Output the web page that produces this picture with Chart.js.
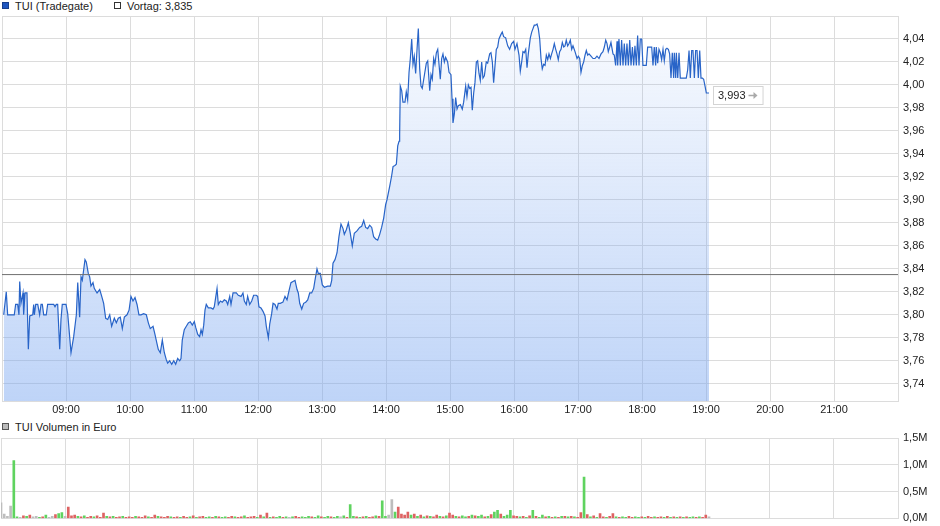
<!DOCTYPE html>
<html>
<head>
<meta charset="utf-8">
<script src="https://cdn.jsdelivr.net/npm/chart.js@4.4.1/dist/chart.umd.min.js"></script>
<style>
  body { margin: 0; background: #fff; font-family: "Liberation Sans", Arial, sans-serif; font-size: 11px; color: #222; }
  #wrap { position: relative; width: 940px; height: 526px; overflow: hidden; }
  canvas { position: absolute; left: 0; }
  .lg { position: absolute; white-space: nowrap; line-height: 13px; }
  .sq { display: inline-block; width: 5px; height: 5px; border: 1px solid #333; margin-right: 6px; vertical-align: 1px; }
</style>
</head>
<body>
<div id="wrap">
  <div class="lg" style="left:2px;top:0px"><span class="sq" style="background:#1f56c0;border-color:#183f8c"></span>TUI (Tradegate)</div>
  <div class="lg" style="left:114px;top:0px"><span class="sq" style="background:#fff"></span><span id="vortagTxt"></span></div>
  <canvas id="priceChart" width="940" height="420" style="top:0"></canvas>
  <div class="lg" style="left:2px;top:421px"><span class="sq" style="background:#bbb;border-color:#555"></span>TUI Volumen in Euro</div>
  <canvas id="volChart" width="940" height="110" style="top:420px"></canvas>
</div>
<script>
// time = minutes after 08:00, price in EUR
const morning = [
  [1.6,3.800],[4.0,3.820],[5.3,3.800],[11.5,3.800],[12.8,3.809],[14.7,3.809],[15.9,3.800],[16.6,3.829],[17.8,3.810],[19.7,3.819],
  [20.3,3.800],[21.6,3.819],[23.4,3.819],[24.7,3.770],[26.0,3.799],[28.8,3.800],[29.7,3.809],[30.3,3.800],[31.6,3.809],[33.5,3.809],
  [35.3,3.800],[36.6,3.809],[37.8,3.809],[39.1,3.800],[41.5,3.800],[42.8,3.809],[48.5,3.809],[49.7,3.807],[50.9,3.809],[52.2,3.809],
  [54.1,3.770],[55.3,3.796],[56.5,3.809],[60.0,3.809],[61.6,3.801],[64.7,3.767],[67.2,3.781],[69.7,3.800],[71.0,3.828],[72.8,3.798],
  [74.1,3.833],[75.3,3.830],[77.8,3.848],[79.0,3.846],[80.9,3.836],[82.2,3.833],[83.4,3.825],[85.3,3.828],[86.5,3.823],[89.1,3.819],
  [91.6,3.822],[93.5,3.816],[95.3,3.810],[97.2,3.797],[99.1,3.796],[101.0,3.800],[102.8,3.790],[105.3,3.797],[107.2,3.793],[109.0,3.797],
  [110.9,3.798],[112.8,3.788],[114.7,3.798],[117.2,3.800],[119.1,3.804],[120.9,3.816],[122.8,3.812],[124.7,3.815],[126.6,3.809],[128.4,3.800],
  [130.3,3.800],[132.8,3.801],[135.3,3.800],[137.2,3.793],[139.0,3.788],[141.6,3.790],[143.4,3.783],[145.3,3.775],[146.5,3.770],[148.4,3.767],
  [150.3,3.778],[152.2,3.767],[154.0,3.761],[155.3,3.758],[157.2,3.760],[159.1,3.757],[161.0,3.760],[162.8,3.757],[164.7,3.762],[166.6,3.760],
  [167.8,3.762],[169.0,3.778],[170.9,3.787],[172.8,3.790],[174.7,3.793],[176.5,3.794],[178.4,3.791],[180.3,3.794],[181.6,3.789],[183.5,3.783],
  [185.3,3.781],[186.6,3.787],[187.8,3.783],[189.1,3.791],[190.3,3.804],[191.5,3.809]
];
const midday = [
  [193.4,3.806],[195.9,3.806],[197.8,3.805],[199.0,3.807],[200.3,3.815],[201.6,3.823],[202.8,3.809],[204.7,3.812],[206.5,3.811],[208.4,3.813],
  [210.3,3.812],[211.6,3.809],[213.5,3.816],[214.7,3.809],[216.6,3.819],[217.8,3.819],[219.7,3.819],[221.5,3.817],[224.1,3.816],[225.9,3.819],
  [227.2,3.812],[229.0,3.809],[230.3,3.816],[232.2,3.809],[234.1,3.812],[235.9,3.817],[238.4,3.817],[239.7,3.816],[240.9,3.807],[242.8,3.806],
  [244.7,3.803],[246.6,3.799],[247.8,3.790],[249.7,3.780],[251.0,3.792],[252.8,3.801],[254.1,3.810],[255.9,3.809],[257.8,3.805],[259.0,3.810],
  [260.9,3.810],[263.4,3.811],[265.3,3.816],[267.2,3.813],[269.1,3.821],[270.9,3.828],[272.8,3.829],[274.7,3.830],[276.6,3.822],[277.8,3.819],
  [279.1,3.810],[281.0,3.805],[282.8,3.810],[284.7,3.811],[286.6,3.813],[288.5,3.819],[290.3,3.819],[292.2,3.823],[293.4,3.830],[295.3,3.840],
  [296.5,3.836],[298.4,3.836],[300.3,3.826],[302.2,3.824],[305.3,3.825],[307.8,3.825],[309.1,3.830],[310.3,3.845],[312.2,3.848],[314.1,3.854],
  [315.9,3.868],[317.8,3.879],[319.7,3.875],[320.9,3.870],[322.8,3.874],[324.7,3.880],[326.5,3.871],[328.4,3.860],[330.3,3.871],[332.8,3.873],
  [335.3,3.876],[337.2,3.877],[339.1,3.882],[340.9,3.876],[342.8,3.875],[344.7,3.878],[346.6,3.876],[348.4,3.868],[350.3,3.866],[352.2,3.865],
  [354.1,3.870],[355.9,3.876],[357.8,3.884]
];
const afternoon = [
  [359.7,3.896],[360.9,3.900],[363.5,3.912],[365.3,3.921],[366.6,3.929],[368.4,3.930],[369.7,3.931],[371.0,3.947],[372.2,3.951],[372.8,3.957],
  [373.4,3.999],[374.7,3.995],[375.9,3.985],[377.8,3.985],[379.0,3.994],[380.3,3.987],[381.6,4.011],[382.8,4.023],[384.1,4.040],[385.3,4.018],
  [386.5,4.025],[387.8,4.010],[389.1,4.031],[390.3,4.049],[391.6,4.014],[392.8,3.999],[394.0,3.997],[395.9,4.008],[397.8,4.019],[399.1,4.021],
  [401.0,3.995],[402.2,4.009],[403.4,4.005],[404.7,4.023],[405.9,4.018],[407.2,4.028],[408.5,4.031],[409.7,4.018],[410.9,4.005],[412.2,4.023],
  [413.4,4.027],[414.7,4.020],[415.9,4.024],[417.8,4.020],[419.1,4.011],[420.9,4.009],[421.9,3.988],[422.8,3.967],[424.1,3.975],[425.3,3.989],
  [426.6,3.979],[427.8,3.982],[429.7,3.983],[431.5,3.979],[432.8,3.985],[434.7,3.999],[435.9,3.990],[437.2,4.000],[438.5,3.997],[439.7,3.998],
  [440.9,3.978],[442.2,3.993],[443.4,4.002],[444.7,4.020],[445.9,4.021],[447.2,4.010],[448.4,4.004],[449.7,4.020],[450.9,4.006],[452.2,4.008],
  [454.0,4.020],[455.3,4.019],[457.2,4.027],[458.4,4.028],[459.7,4.020],[460.9,4.002],[462.2,4.017],[463.4,4.031],[464.7,4.033],[465.9,4.040],
  [467.8,4.044],[469.0,4.046],[470.3,4.042],[472.2,4.041],[474.1,4.034],[475.9,4.031],[477.8,4.036],[479.7,4.038],[480.9,4.031],[482.8,4.036],
  [484.7,4.026],[485.9,4.012],[487.2,4.020],[488.4,4.029],[489.7,4.028],[491.0,4.031],[492.2,4.015],[493.4,4.027],[495.3,4.041],[496.6,4.046],
  [497.8,4.049],[499.0,4.052],[500.3,4.052],[501.6,4.053],[502.8,4.049],[504.1,4.040],[505.3,4.023],[506.5,4.014],[507.8,4.018],[509.1,4.017],
  [510.3,4.026],[511.6,4.022],[512.8,4.027],[514.1,4.023],[515.3,4.027],[516.6,4.031],[517.8,4.036],[519.1,4.031],[520.3,4.027],[521.5,4.022],
  [522.8,4.029],[524.1,4.031],[525.3,4.037],[526.6,4.033],[527.8,4.034],[529.0,4.039],[530.3,4.034],[531.6,4.036],[532.8,4.039]
];
const evening = [
  [534.1,4.031],[535.3,4.034],[537.2,4.029],[539.1,4.023],[540.3,4.025],[541.6,4.023],[542.8,4.011],[544.1,4.017],[545.3,4.020],[546.6,4.026],
  [547.8,4.030],[549.1,4.026],[550.3,4.027],[552.2,4.025],[554.1,4.023],[555.9,4.023],[557.8,4.025],[559.7,4.023],[561.6,4.027],[563.4,4.029],
  [564.7,4.033],[566.0,4.039],[567.2,4.036],[568.4,4.029],[569.7,4.033],[570.9,4.037],[572.8,4.027],[574.0,4.026],[575.3,4.017],[576.6,4.038],
  [577.2,4.017],[578.4,4.040],[579.7,4.017],[580.9,4.039],[582.2,4.017],[583.4,4.036],[584.7,4.017],[585.9,4.036],[587.2,4.017],[588.5,4.039],
  [589.7,4.017],[591.0,4.033],[592.2,4.017],[593.4,4.034],[594.7,4.017],[595.9,4.043],[597.2,4.017],[598.4,4.040],[599.7,4.040],[600.9,4.017],
  [602.8,4.017],[604.0,4.017],[605.3,4.033],[606.6,4.033],[609.1,4.033],[610.3,4.017],[611.5,4.033],[612.8,4.017],[613.4,4.033],[614.7,4.019],
  [615.9,4.031],[617.2,4.028],[618.4,4.022],[619.7,4.031],[620.9,4.021],[622.2,4.031],[623.4,4.032],[624.7,4.031],[625.9,4.027],[627.2,4.006],
  [628.4,4.028],[629.7,4.006],[630.3,4.028],[631.6,4.006],[632.2,4.028],[633.5,4.006],[634.7,4.028],[635.9,4.006],[637.8,4.006],[639.7,4.006],
  [641.5,4.006],[642.8,4.013],[644.1,4.030],[645.3,4.006],[646.6,4.030],[647.8,4.030],[649.1,4.006],[650.3,4.030],[651.6,4.030],[652.8,4.006],
  [654.1,4.030],[655.3,4.006],[656.6,4.006],[657.8,4.005],[659.1,3.999],[660.3,3.993],[662.8,3.993]
];
const vortag = 3.835;

// volume in thousand EUR per 3-minute slot from 08:00; side: g = up, r = down, n = unchanged
const volStep = 3;
const volume = [
  290,80,40,230,1080,30,20,50,40,60,   30,40,20,30,60,20,40,70,90,110,
  40,210,50,60,40,30,50,20,40,30,      50,20,100,40,30,40,20,30,40,20,
  30,20,40,30,20,50,30,20,60,40,       30,20,40,30,20,30,20,40,20,30,
  50,20,30,40,20,30,20,40,30,20,       30,20,40,30,20,30,50,20,30,40,
  20,60,30,100,20,30,20,40,20,30,      20,30,40,20,30,20,40,30,20,50,
  30,20,40,30,20,40,30,50,20,260,      40,30,20,30,40,20,30,50,40,330,
  40,60,350,120,210,80,60,120,60,80,   40,60,30,50,40,30,60,40,30,50,
  100,60,40,30,50,30,40,60,50,40,      60,30,40,70,120,150,80,40,60,150,
  50,40,30,40,20,50,150,40,20,60,      30,40,20,30,20,40,40,30,40,30,
  20,110,770,70,30,50,20,90,30,20,     40,90,30,20,30,20,40,20,30,20,
  30,20,40,20,30,20,30,20,40,20,       30,20,30,20,30,20,30,20,30,20,
  60,30
];
const volSide =
  "nnnnggnrgr" + "nngrgnnrgg" + "nrrrgrgrrg" + "rrrgrgrrgr" + "rrgrrrgrrg" +
  "rrrgrrgrrg" + "rgrrggrgrg" + "grrgrrgrrr" + "grgrgrggrg" + "ngrrgggrgg" +
  "rggrggngrg" + "grgrgrrgrg" + "gnngrrrrgr" + "grgrgrrgrg" + "rrgrggrgrg" +
  "grgrggrggg" + "rrgrgrgrgg" + "rgrgrgrgrg" + "rrgrgrgrrg" + "rrgrggrrgg" +
  "rgrrgrrgrg" + "rgrgrggrgr" + "rn";

const timeLabels = ['08:00','09:00','10:00','11:00','12:00','13:00','14:00','15:00','16:00','17:00','18:00','19:00','20:00','21:00','22:00'];
const priceTicks = [3.74,3.76,3.78,3.80,3.82,3.84,3.86,3.88,3.90,3.92,3.94,3.96,3.98,4.00,4.02,4.04];
const volTicks = [0, 500, 1000, 1500];

const yMin = 3.725, yMax = 4.06;
const toMin = t => { const [h, m] = t.split(':').map(Number); return (h - 8) * 60 + m; };
const hourMins = timeLabels.map(toMin);
const xMin = hourMins[0], xMax = hourMins[hourMins.length - 1];

const trades = [...morning, ...midday, ...afternoon, ...evening];
const priceData = trades.map(([x, y]) => ({ x, y }));
const lastPrice = trades[trades.length - 1][1];
const comma = (v, d) => v.toFixed(d).replace('.', ',');

document.getElementById('vortagTxt').textContent = 'Vortag: ' + comma(vortag, 3);

Chart.defaults.font.family = '"Liberation Sans", Arial, sans-serif';
Chart.defaults.font.size = 11;
Chart.defaults.color = '#222';

const gridCol = '#dcdcdc';

const lastLabel = {
  id: 'lastLabel',
  afterDatasetsDraw(chart) {
    const meta = chart.getDatasetMeta(1);
    const pt = meta.data[meta.data.length - 1];
    const ctx = chart.ctx;
    const txt = comma(lastPrice, 3);
    ctx.save();
    ctx.font = '11px "Liberation Sans", Arial, sans-serif';
    const w = ctx.measureText(txt).width;
    const x = Math.round(pt.x) + 4, y = Math.round(pt.y) - 7;
    ctx.fillStyle = '#fff';
    ctx.fillRect(x, y, w + 22, 18);
    ctx.strokeStyle = '#d4d4d4';
    ctx.strokeRect(x + 0.5, y + 0.5, w + 22, 18);
    ctx.fillStyle = '#222';
    ctx.textBaseline = 'middle';
    ctx.fillText(txt, x + 5, y + 9.5);
    // grey arrow
    const ax = x + w + 8, ay = y + 9.5;
    ctx.strokeStyle = '#aaa';
    ctx.lineWidth = 1.5;
    ctx.beginPath(); ctx.moveTo(ax, ay); ctx.lineTo(ax + 7, ay); ctx.stroke();
    ctx.fillStyle = '#aaa';
    ctx.beginPath(); ctx.moveTo(ax + 9, ay); ctx.lineTo(ax + 5, ay - 3.5); ctx.lineTo(ax + 5, ay + 3.5); ctx.closePath(); ctx.fill();
    ctx.restore();
  }
};

new Chart(document.getElementById('priceChart'), {
  type: 'line',
  data: {
    datasets: [
      {
        data: [{ x: xMin, y: vortag }, { x: xMax, y: vortag }],
        borderColor: '#707070', borderWidth: 1, pointRadius: 0, fill: false, order: 0
      },
      {
        data: priceData,
        borderColor: '#2864c8', borderWidth: 1.2, pointRadius: 0, tension: 0,
        fill: 'start', order: 1,
        backgroundColor: ctx => {
          const { chart } = ctx;
          const a = chart.chartArea;
          if (!a) return 'rgba(120,165,240,0.3)';
          const g = chart.ctx.createLinearGradient(0, a.top, 0, a.bottom);
          g.addColorStop(0, 'rgba(120,165,240,0.04)');
          g.addColorStop(1, 'rgba(120,165,240,0.48)');
          return g;
        }
      }
    ]
  },
  options: {
    responsive: false,
    animation: false,
    layout: { padding: { top: 16, left: 1, right: 0, bottom: 0 } },
    plugins: { legend: { display: false }, tooltip: { enabled: false } },
    scales: {
      x: {
        type: 'linear', min: xMin, max: xMax,
        afterBuildTicks: s => { s.ticks = hourMins.map(v => ({ value: v })); },
        afterFit: s => { s.height = 19; },
        ticks: {
          autoSkip: false, maxRotation: 0, padding: 2,
          callback: (v, i) => (i === 0 || i === timeLabels.length - 1) ? '' : timeLabels[i]
        },
        grid: { color: gridCol, drawTicks: false },
        border: { color: gridCol }
      },
      y: {
        position: 'right', min: yMin, max: yMax,
        afterBuildTicks: s => { s.ticks = [...priceTicks, yMax].map(v => ({ value: v })); },
        afterFit: s => { s.width = 42; },
        ticks: { padding: 5, callback: v => v === yMax ? '' : comma(v, 2) },
        grid: { color: gridCol, drawTicks: false },
        border: { color: gridCol }
      }
    }
  },
  plugins: [lastLabel]
});

const sideCol = { g: '#5fd35f', r: '#de6262', n: '#bdbdbd' };
new Chart(document.getElementById('volChart'), {
  type: 'bar',
  data: {
    datasets: [{
      data: volume.map((v, i) => ({ x: i * volStep, y: v })),
      backgroundColor: volume.map((v, i) => sideCol[volSide[i]]),
      barThickness: 2,
      borderWidth: 0
    }]
  },
  options: {
    responsive: false,
    animation: false,
    layout: { padding: { top: 18, left: 1, right: 0, bottom: 6 } },
    plugins: { legend: { display: false }, tooltip: { enabled: false } },
    scales: {
      x: {
        type: 'linear', min: xMin, max: xMax, offset: false,
        afterBuildTicks: s => { s.ticks = hourMins.map(v => ({ value: v })); },
        afterFit: s => { s.height = 0; },
        ticks: { display: false },
        grid: { color: gridCol, drawTicks: false, offset: false },
        border: { color: gridCol }
      },
      y: {
        position: 'right', min: 0, max: 1500,
        afterBuildTicks: s => { s.ticks = volTicks.map(v => ({ value: v })); },
        afterFit: s => { s.width = 42; },
        ticks: { padding: 5, callback: v => comma(v / 1000, 1) + 'M' },
        grid: { color: gridCol, drawTicks: false },
        border: { color: gridCol }
      }
    }
  }
});
</script>
</body>
</html>
